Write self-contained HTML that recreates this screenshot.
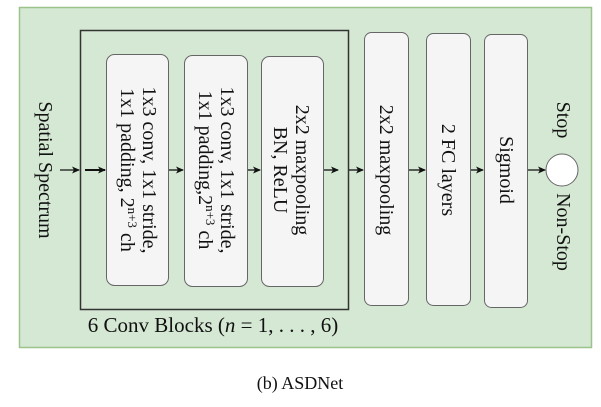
<!DOCTYPE html>
<html><head><style>body{margin:0;background:#fff}svg{display:block}</style></head>
<body>
<svg width="601" height="407" viewBox="0 0 601 407" xmlns="http://www.w3.org/2000/svg" font-family="Liberation Serif, serif" font-size="20" fill="#111">
<defs><marker id="a" markerWidth="8" markerHeight="8" refX="7" refY="4" orient="auto" markerUnits="userSpaceOnUse"><path d="M0,0.5 L8,4 L0,7.5 L2,4z" fill="#111"/></marker></defs>
<rect x="19.5" y="7.5" width="572" height="340" fill="#d5e8d4" stroke="#9cc38a" stroke-width="1.5"/>
<rect x="80.5" y="30.5" width="268" height="279" fill="none" stroke="#333" stroke-width="1.5"/>
<g fill="#f5f5f5" stroke="#666" stroke-width="1">
<rect x="106.5" y="54.5" width="62" height="231" rx="8"/>
<rect x="184.5" y="55.5" width="63" height="231" rx="8"/>
<rect x="261.5" y="56.5" width="62" height="230" rx="8"/>
<rect x="364.5" y="32.5" width="44" height="273" rx="7"/>
<rect x="426.5" y="33.5" width="44" height="272" rx="7"/>
<rect x="484.5" y="34.5" width="43" height="273" rx="7"/>
<circle cx="562" cy="170" r="16" fill="#fff"/>
</g>
<g stroke="#111" stroke-width="1.3" marker-end="url(#a)">
<line x1="60" y1="170" x2="79" y2="170"/>
<line x1="85" y1="170" x2="105" y2="170" stroke-width="2"/>
<line x1="169" y1="170" x2="183" y2="170"/>
<line x1="248" y1="170" x2="260" y2="170"/>
<line x1="324" y1="170" x2="338" y2="170"/>
<line x1="349" y1="170" x2="363" y2="170"/>
<line x1="409" y1="170" x2="425" y2="170"/>
<line x1="471" y1="170" x2="483" y2="170"/>
<line x1="528" y1="170" x2="545" y2="170"/>
</g>
<g text-anchor="middle">
<text transform="translate(39,170) rotate(90)">Spatial Spectrum</text>
<text transform="translate(143,170) rotate(90)">1x3 conv, 1x1 stride,</text>
<text transform="translate(121,170) rotate(90)">1x1 padding, 2<tspan font-size="13" dy="-7">n+3</tspan><tspan dy="7"> ch</tspan></text>
<text transform="translate(221,170) rotate(90)">1x3 conv, 1x1 stride,</text>
<text transform="translate(199,170) rotate(90)">1x1 padding,2<tspan font-size="13" dy="-7">n+3</tspan><tspan dy="7"> ch</tspan></text>
<text transform="translate(296,170) rotate(90)">2x2 maxpooling</text>
<text transform="translate(274,170) rotate(90)">BN, ReLU</text>
<text transform="translate(380,170) rotate(90)">2x2 maxpooling</text>
<text transform="translate(442,170) rotate(90)">2 FC layers</text>
<text transform="translate(500,170) rotate(90)">Sigmoid</text>
<text transform="translate(557,120) rotate(90)">Stop</text>
<text transform="translate(557,232) rotate(90)">Non-Stop</text>
<text x="213" y="332" font-size="21">6 Conv Blocks (<tspan font-style="italic">n</tspan> = 1, . . . , 6)</text>
<text x="300" y="389" font-size="18">(b) ASDNet</text>
</g>
</svg>
</body></html>
